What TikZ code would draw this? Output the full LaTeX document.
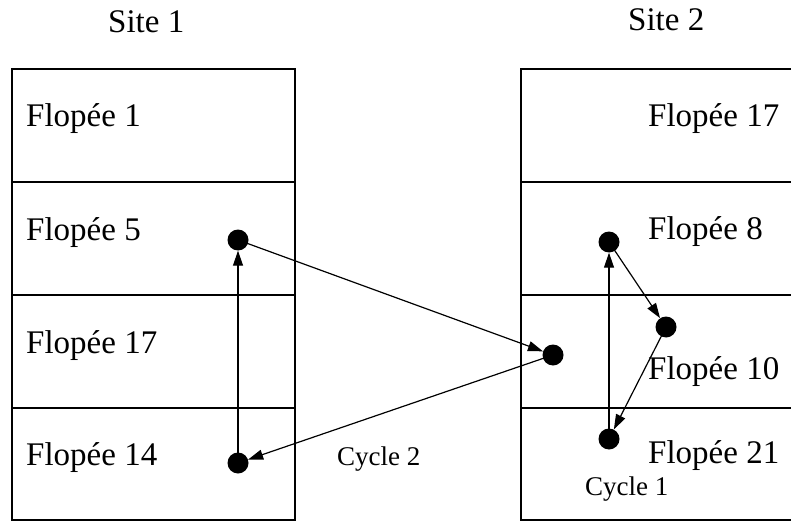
\documentclass[tikz,border=0pt]{standalone}
\usepackage{fontspec}
\setmainfont{Liberation Serif}
\usetikzlibrary{arrows.meta}
\begin{document}
\begin{tikzpicture}[x=1pt,y=-1pt,
  lbl/.style={anchor=base west,inner sep=0pt,font=\fontsize{33}{36}\selectfont},
  small/.style={anchor=base west,inner sep=0pt,font=\fontsize{27}{30}\selectfont},
  dot/.style={circle,fill=black,minimum size=21pt,inner sep=0pt},
  box/.style={draw=black,line width=1.3pt},
  conn/.style={line width=1.2pt,-{Triangle[length=15pt,width=10pt]}}]
\clip (0,0) rectangle (791,521);
% left column
\draw[box] (12,69) rectangle (295,520);
\draw[box] (12,182) -- (295,182);
\draw[box] (12,295) -- (295,295);
\draw[box] (12,408) -- (295,408);
% right column
\draw[box] (521,69) rectangle (800,520);
\draw[box] (521,182) -- (800,182);
\draw[box] (521,295) -- (800,295);
\draw[box] (521,408) -- (800,408);
% titles
\node[lbl] (s1) at (108,33) {Site 1};
\node[lbl] (s2) at (628,31) {Site 2};
% left labels
\node[lbl] (l1) at (26,127) {Flopée 1};
\node[lbl] (l5) at (26,240) {Flopée 5};
\node[lbl] (l17) at (26,353) {Flopée 17};
\node[lbl] (l14) at (26,465) {Flopée 14};
% right labels
\node[lbl] (r17) at (648,127) {Flopée 17};
\node[lbl] (r8) at (648,239) {Flopée 8};
\node[lbl] (r10) at (648,379) {Flopée 10};
\node[lbl] (r21) at (648,463) {Flopée 21};
\node[small] (c1) at (585,495) {Cycle 1};
\node[small] (c2) at (337,465) {Cycle 2};
% dots
\node[dot] (d5) at (238,240) {};
\node[dot] (d14) at (238,463) {};
\node[dot] (dm) at (553,355) {};
\node[dot] (d8) at (609,242) {};
\node[dot] (d10) at (666,327) {};
\node[dot] (d21) at (609,439) {};
% cycle 2
\draw[conn] (d5.center) -- (dm);
\draw[conn] (dm.center) -- (d14);
\draw[conn] (d14.center) -- (d5);
% cycle 1
\draw[conn] (d21.center) -- (d8);
\draw[conn] (d8.center) -- (d10);
\draw[conn] (d10.center) -- (d21);
\end{tikzpicture}
\end{document}
